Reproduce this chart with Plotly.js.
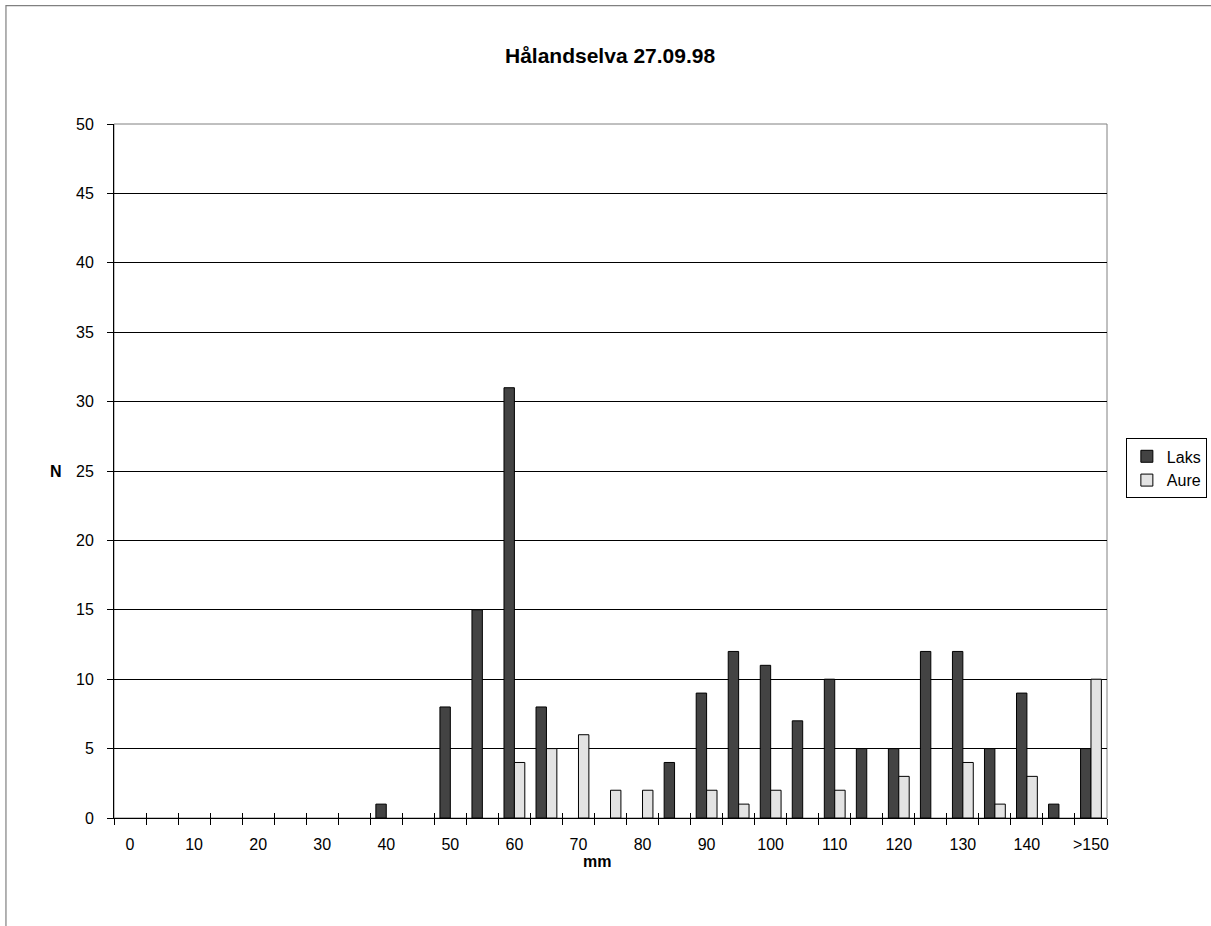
<!DOCTYPE html>
<html>
<head>
<meta charset="utf-8">
<script src="https://cdn.plot.ly/plotly-3.0.1.min.js"></script>
<style>
html,body{margin:0;padding:0;background:#fff;}
#chart{width:1211px;height:926px;}
</style>
</head>
<body>
<div id="chart"></div>
<script>
// Length classes (mm)
const categories = ["0","5","10","15","20","25","30","35","40","45","50","55","60","65","70","75","80","85","90","95","100","105","110","115","120","125","130","135","140","145",">150"];
// Tick labels shown (every other class)
const tickLabels = ["0","","10","","20","","30","","40","","50","","60","","70","","80","","90","","100","","110","","120","","130","","140","",">150"];
// Counts
const laks = [0,0,0,0,0,0,0,0,1,0,8,15,31,8,0,0,0,4,9,12,11,7,10,5,5,12,12,5,9,1,5];
const aure = [0,0,0,0,0,0,0,0,0,0,0,0,4,5,6,2,2,0,2,1,2,0,2,0,3,0,4,1,3,0,10];
const seriesNames = ["Laks","Aure"];
const titleText = "Hålandselva 27.09.98";
const xTitle = "mm";
const yTitle = "N";

const FONT = "Liberation Sans, Arial, sans-serif";
const boundaries = categories.map((c,i)=>i-0.5).concat([categories.length-0.5]);
// empty classes are not drawn (no outline on the axis)
const hideZero = v => (v === 0 ? null : v);

const traces = [
  {type:"bar", name:seriesNames[0], x:categories, y:laks.map(hideZero),
   marker:{color:"#434343", line:{color:"#000", width:1}}},
  {type:"bar", name:seriesNames[1], x:categories, y:aure.map(hideZero),
   marker:{color:"#e3e3e3", line:{color:"#000", width:1}}},
  // empty helper trace so the overlaid tick axis (inner half of crossing ticks) is drawn
  {type:"scatter", x:[], y:[], xaxis:"x2", yaxis:"y", showlegend:false, hoverinfo:"skip"}
];

const layout = {
  width:1211, height:926,
  margin:{l:114, r:104, t:124, b:108, autoexpand:false},
  paper_bgcolor:"#fff", plot_bgcolor:"#fff",
  font:{family:FONT, size:16, color:"#000"},
  barmode:"group", bargap:0.35, bargroupgap:0,
  showlegend:true,
  legend:{x:1.019, xanchor:"left", y:0.547, yanchor:"top",
          bordercolor:"#000", borderwidth:1, bgcolor:"#fff",
          font:{family:FONT, size:16, color:"#000"}, itemwidth:30,
          tracegroupgap:0},
  xaxis:{type:"category", range:[-0.5, categories.length-0.5],
         tickmode:"array", tickvals:categories, ticktext:tickLabels, tickangle:0,
         tickson:"boundaries", ticks:"outside", ticklen:6, tickcolor:"#000", tickwidth:1,
         ticklabelstandoff:12,
         showline:true, linecolor:"#000", linewidth:1,
         showgrid:false, zeroline:false, automargin:false,
         tickfont:{family:FONT, size:16, color:"#000"}},
  xaxis2:{overlaying:"x", anchor:"y", range:[-0.5, categories.length-0.5],
          tickmode:"array", tickvals:boundaries, ticks:"inside", ticklen:5,
          tickcolor:"#000", tickwidth:1, showticklabels:false,
          showgrid:false, zeroline:false, showline:false, automargin:false},
  yaxis:{range:[0,50], dtick:5, ticks:"outside", ticklen:6, tickcolor:"#000",
         ticklabelstandoff:10,
         showline:true, linecolor:"#000", linewidth:1, automargin:false,
         showgrid:true, gridcolor:"#000", gridwidth:1, zeroline:false,
         tickfont:{family:FONT, size:16, color:"#000"}},
  shapes:[
    {type:"rect", xref:"paper", yref:"paper", x0:0, x1:1, y0:0, y1:1,
     line:{color:"#808080", width:1}, layer:"below"},
    {type:"rect", xref:"paper", yref:"paper", x0:-0.1088, x1:1.3, y0:-0.4, y1:1.1707,
     line:{color:"#808080", width:1.2}, layer:"below"}
  ],
  annotations:[
    {text:"<b>"+titleText+"</b>", xref:"paper", yref:"paper", x:0.499, y:1.0994,
     xanchor:"center", yanchor:"middle", showarrow:false,
     font:{family:FONT, size:21, color:"#000"}},
    {text:"<b>"+xTitle+"</b>", xref:"paper", yref:"paper", x:0.486, y:-0.063,
     xanchor:"center", yanchor:"middle", showarrow:false,
     font:{family:FONT, size:16, color:"#000"}},
    {text:"<b>"+yTitle+"</b>", xref:"paper", yref:"paper", x:-0.058, y:0.5,
     xanchor:"center", yanchor:"middle", showarrow:false,
     font:{family:FONT, size:16, color:"#000"}}
  ]
};

Plotly.newPlot("chart", traces, layout, {staticPlot:true, displayModeBar:false});
</script>
</body>
</html>
